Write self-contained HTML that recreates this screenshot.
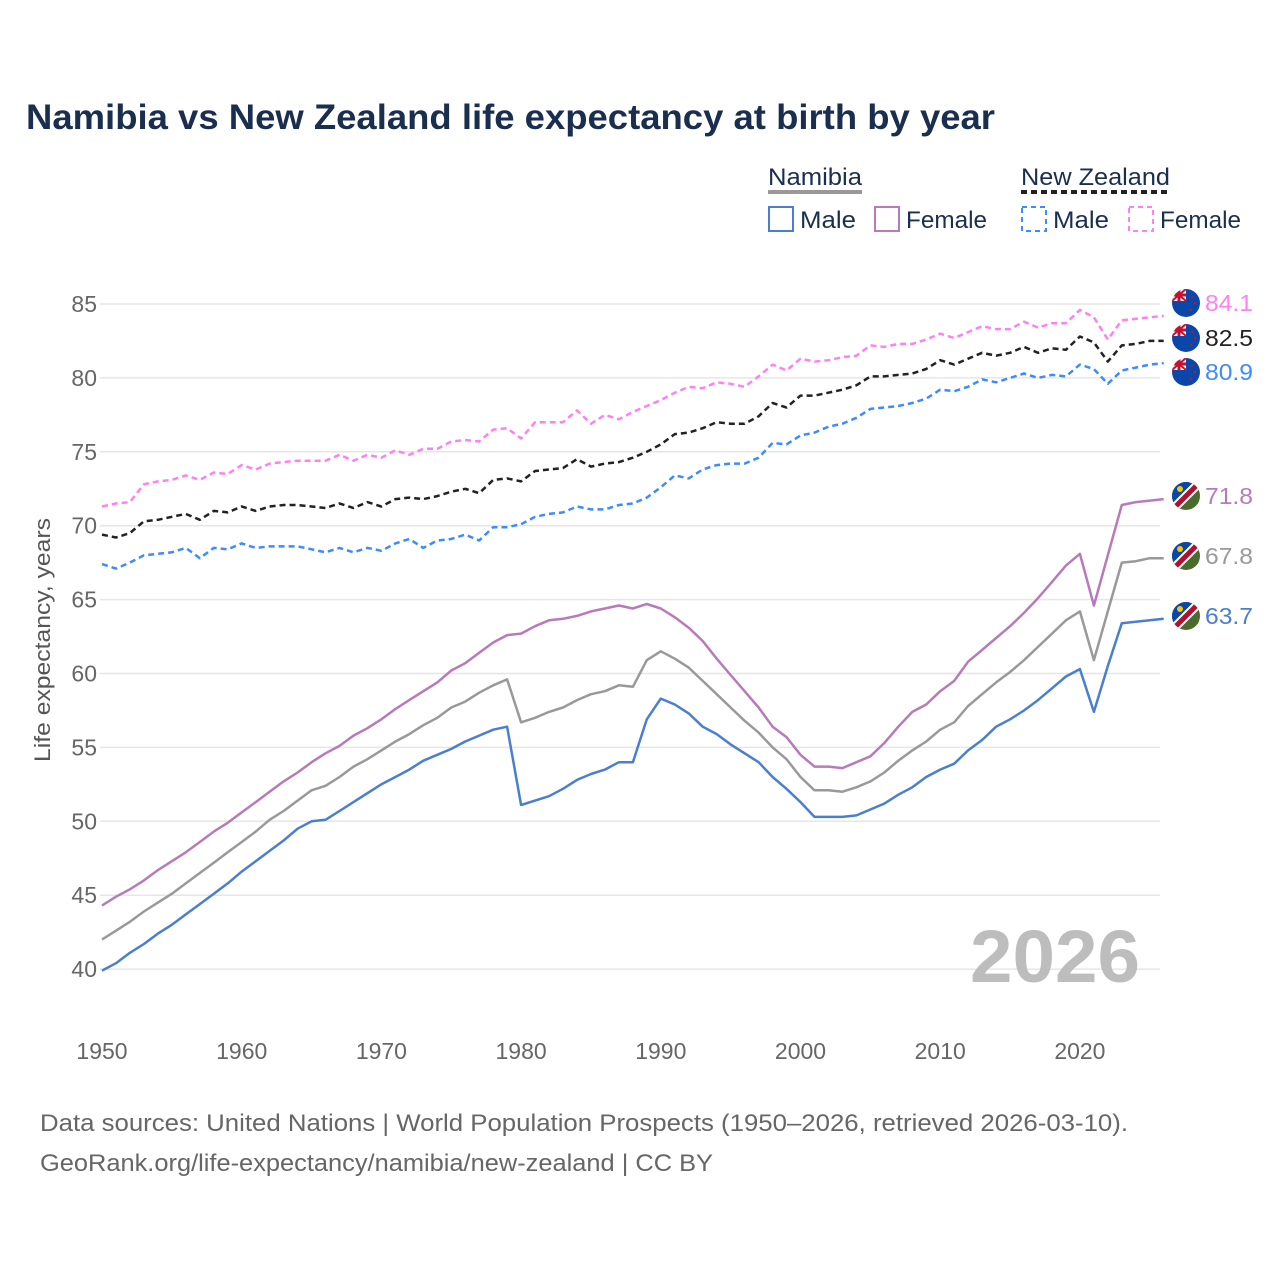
<!DOCTYPE html>
<html><head><meta charset="utf-8">
<style>
html,body{margin:0;padding:0;background:#fff;}
body{width:1280px;height:1280px;overflow:hidden;font-family:"Liberation Sans",sans-serif;}
svg text{font-family:"Liberation Sans",sans-serif;}
</style></head>
<body>
<svg id="chart" width="1280" height="1280" viewBox="0 0 1280 1280" xmlns="http://www.w3.org/2000/svg">
<defs>
<clipPath id="cc"><circle cx="0" cy="0" r="14"/></clipPath>
<g id="flag-nz">
 <g clip-path="url(#cc)">
  <rect x="-14" y="-14" width="28" height="28" fill="#0a47a8"/>
  <rect x="-14" y="-14" width="14" height="12" fill="#fff"/>
  <path d="M-14,-14 L0,-2 M0,-14 L-14,-2" stroke="#c8102e" stroke-width="2"/>
  <rect x="-14" y="-9.5" width="14" height="3" fill="#c8102e"/>
  <rect x="-8.5" y="-14" width="3" height="12" fill="#c8102e"/>
  <circle cx="6" cy="-6" r="1.2" fill="#c8102e"/><circle cx="9" cy="0" r="1.2" fill="#c8102e"/><circle cx="5" cy="7" r="1.2" fill="#c8102e"/>
 </g>
</g>
<g id="flag-na">
 <g clip-path="url(#cc)">
  <rect x="-14" y="-14" width="28" height="28" fill="#4a6b2e"/>
  <polygon points="-14,-14 14,-14 -14,14" fill="#0a47a8"/>
  <path d="M-16,16 L16,-16" stroke="#fff" stroke-width="9"/>
  <path d="M-16,16 L16,-16" stroke="#b01030" stroke-width="5"/>
  <circle cx="-6" cy="-7" r="3" fill="#f7c600"/>
 </g>
</g>
</defs>
<text x="26" y="129" font-size="35" font-weight="bold" fill="#1a2e4f" textLength="969" lengthAdjust="spacingAndGlyphs">Namibia vs New Zealand life expectancy at birth by year</text>

<g font-size="24" fill="#1a2e4f">
 <text x="768" y="185" fill="#1a2e4f" textLength="94" lengthAdjust="spacingAndGlyphs">Namibia</text>
 <line x1="768" x2="862" y1="192" y2="192" stroke="#999" stroke-width="4"/>
 <text x="1021" y="185" fill="#1a2e4f" textLength="149" lengthAdjust="spacingAndGlyphs">New Zealand</text>
 <line x1="1021" x2="1170" y1="192" y2="192" stroke="#222" stroke-width="4" stroke-dasharray="6,4"/>
 <g><rect x="769" y="207" width="24" height="24" fill="none" stroke="#4a7fcf" stroke-width="2"/><text x="800" y="228" fill="#1a2e4f" textLength="56" lengthAdjust="spacingAndGlyphs">Male</text></g>
 <g><rect x="875" y="207" width="24" height="24" fill="none" stroke="#b87ab8" stroke-width="2"/><text x="906" y="228" fill="#1a2e4f" textLength="81" lengthAdjust="spacingAndGlyphs">Female</text></g>
 <g><rect x="1022" y="207" width="24" height="24" fill="none" stroke="#3d8bff" stroke-width="2" stroke-dasharray="5,4"/><text x="1053" y="228" fill="#1a2e4f" textLength="56" lengthAdjust="spacingAndGlyphs">Male</text></g>
 <g><rect x="1129" y="207" width="24" height="24" fill="none" stroke="#ff80f0" stroke-width="2" stroke-dasharray="5,4"/><text x="1160" y="228" fill="#1a2e4f" textLength="81" lengthAdjust="spacingAndGlyphs">Female</text></g>
</g>

<g id="grid"></g>
<g id="yticks"></g>
<g id="xticks"></g>
<text transform="translate(50,640) rotate(-90)" text-anchor="middle" font-size="22" fill="#555" textLength="244" lengthAdjust="spacingAndGlyphs">Life expectancy, years</text>
<text x="1140" y="982" text-anchor="end" font-size="74" font-weight="bold" fill="#bdbdbd" textLength="170" lengthAdjust="spacingAndGlyphs">2026</text>
<g id="lines"></g>
<g id="ends"></g>
<text x="40" y="1131" font-size="24" fill="#666" textLength="1088" lengthAdjust="spacingAndGlyphs">Data sources: United Nations | World Population Prospects (1950–2026, retrieved 2026-03-10).</text>
<text x="40" y="1171" font-size="24" fill="#666" textLength="673" lengthAdjust="spacingAndGlyphs">GeoRank.org/life-expectancy/namibia/new-zealand | CC BY</text>
</svg>
<script>
const startYear = 1950;
const yTicks = [40,45,50,55,60,65,70,75,80,85];
const xTicks = [1950,1960,1970,1980,1990,2000,2010,2020];
const namibiaMale = [39.9,40.4,41.1,41.7,42.4,43.0,43.7,44.4,45.1,45.8,46.6,47.3,48.0,48.7,49.5,50.0,50.1,50.7,51.3,51.9,52.5,53.0,53.5,54.1,54.5,54.9,55.4,55.8,56.2,56.4,51.1,51.4,51.7,52.2,52.8,53.2,53.5,54.0,54.0,56.9,58.3,57.9,57.3,56.4,55.9,55.2,54.6,54.0,53.0,52.2,51.3,50.3,50.3,50.3,50.4,50.8,51.2,51.8,52.3,53.0,53.5,53.9,54.8,55.5,56.4,56.9,57.5,58.2,59.0,59.8,60.3,57.4,60.5,63.4,63.5,63.6,63.7];
const namibiaBoth = [42.0,42.6,43.2,43.9,44.5,45.1,45.8,46.5,47.2,47.9,48.6,49.3,50.1,50.7,51.4,52.1,52.4,53.0,53.7,54.2,54.8,55.4,55.9,56.5,57.0,57.7,58.1,58.7,59.2,59.6,56.7,57.0,57.4,57.7,58.2,58.6,58.8,59.2,59.1,60.9,61.5,61.0,60.4,59.5,58.6,57.7,56.8,56.0,55.0,54.2,53.0,52.1,52.1,52.0,52.3,52.7,53.3,54.1,54.8,55.4,56.2,56.7,57.8,58.6,59.4,60.1,60.9,61.8,62.7,63.6,64.2,60.9,64.2,67.5,67.6,67.8,67.8];
const namibiaFemale = [44.3,44.9,45.4,46.0,46.7,47.3,47.9,48.6,49.3,49.9,50.6,51.3,52.0,52.7,53.3,54.0,54.6,55.1,55.8,56.3,56.9,57.6,58.2,58.8,59.4,60.2,60.7,61.4,62.1,62.6,62.7,63.2,63.6,63.7,63.9,64.2,64.4,64.6,64.4,64.7,64.4,63.8,63.1,62.2,61.0,59.9,58.8,57.7,56.4,55.7,54.5,53.7,53.7,53.6,54.0,54.4,55.3,56.4,57.4,57.9,58.8,59.5,60.8,61.6,62.4,63.2,64.1,65.1,66.2,67.3,68.1,64.6,68.0,71.4,71.6,71.7,71.8];
const nzMale = [67.4,67.1,67.5,68.0,68.1,68.2,68.5,67.8,68.5,68.4,68.8,68.5,68.6,68.6,68.6,68.4,68.2,68.5,68.2,68.5,68.3,68.8,69.1,68.5,69.0,69.1,69.4,69.0,69.9,69.9,70.1,70.6,70.8,70.9,71.3,71.1,71.1,71.4,71.5,71.9,72.6,73.4,73.2,73.8,74.1,74.2,74.2,74.6,75.6,75.5,76.1,76.3,76.7,76.9,77.3,77.9,78.0,78.1,78.3,78.6,79.2,79.1,79.4,79.9,79.7,80.0,80.3,80.0,80.2,80.1,80.9,80.6,79.6,80.5,80.7,80.9,81.0];
const nzBoth = [69.4,69.2,69.5,70.3,70.4,70.6,70.8,70.4,71.0,70.9,71.3,71.0,71.3,71.4,71.4,71.3,71.2,71.5,71.2,71.6,71.3,71.8,71.9,71.8,72.0,72.3,72.5,72.2,73.1,73.2,73.0,73.7,73.8,73.9,74.5,74.0,74.2,74.3,74.6,75.0,75.5,76.2,76.3,76.6,77.0,76.9,76.9,77.4,78.3,78.0,78.8,78.8,79.0,79.2,79.5,80.1,80.1,80.2,80.3,80.6,81.2,80.9,81.3,81.7,81.5,81.7,82.1,81.7,82.0,81.9,82.8,82.4,81.1,82.2,82.3,82.5,82.5];
const nzFemale = [71.3,71.5,71.6,72.8,73.0,73.1,73.4,73.1,73.6,73.5,74.1,73.8,74.2,74.3,74.4,74.4,74.4,74.8,74.4,74.8,74.6,75.1,74.8,75.2,75.2,75.7,75.8,75.7,76.5,76.6,75.9,77.0,77.0,77.0,77.8,76.9,77.5,77.2,77.7,78.1,78.5,79.0,79.4,79.3,79.7,79.6,79.4,80.1,80.9,80.5,81.3,81.1,81.2,81.4,81.5,82.2,82.1,82.3,82.3,82.6,83.0,82.7,83.1,83.5,83.3,83.3,83.8,83.4,83.7,83.7,84.6,84.1,82.6,83.9,84.0,84.1,84.2];
const endLabels = ["84.1","82.5","80.9","71.8","67.8","63.7"];

const NS="http://www.w3.org/2000/svg";
const X0=102, XPY=13.97, Y85=304, YPU=14.78;
function xs(yr){return X0+(yr-1950)*XPY;}
function ys(v){return Y85+(85-v)*YPU;}
function mk(tag,attrs,parent){const e=document.createElementNS(NS,tag);for(const k in attrs)e.setAttribute(k,attrs[k]);parent.appendChild(e);return e;}

const grid=document.getElementById('grid'), yt=document.getElementById('yticks'), xt=document.getElementById('xticks');
yTicks.forEach(v=>{
  const l=mk('line',{x1:100,x2:1160,y1:ys(v),y2:ys(v),stroke:'#e6e6e6','stroke-width':1.5},grid);
  
  
  const t=mk('text',{x:97,y:ys(v)+8,'text-anchor':'end','font-size':23,fill:'#666'},yt);
  t.textContent=v;
  
  
});
xTicks.forEach(yr=>{
  const t=mk('text',{x:xs(yr),y:1059,'text-anchor':'middle','font-size':23,fill:'#666'},xt);
  t.textContent=yr;
  
  
});

const series=[
 {d:nzFemale,c:'#ff80f0',dash:'6,4',n:'nz-female',flag:'nz',lab:0,ly:303},
 {d:nzBoth,c:'#222',dash:'6,4',n:'nz-both',flag:'nz',lab:1,ly:338},
 {d:nzMale,c:'#3d8bff',dash:'6,4',n:'nz-male',flag:'nz',lab:2,ly:372},
 {d:namibiaFemale,c:'#b87ab8',dash:null,n:'namibia-female',flag:'na',lab:3,ly:496},
 {d:namibiaBoth,c:'#999',dash:null,n:'namibia-both',flag:'na',lab:4,ly:556},
 {d:namibiaMale,c:'#4a7fcf',dash:null,n:'namibia-male',flag:'na',lab:5,ly:616}
];
const lines=document.getElementById('lines'), ends=document.getElementById('ends');
series.forEach(s=>{
  const pts=s.d.map((v,i)=>xs(startYear+i).toFixed(1)+','+ys(v).toFixed(1));
  const a={points:pts.join(' '),fill:'none',stroke:s.c,'stroke-width':2.5,'stroke-linejoin':'round'};
  if(s.dash)a['stroke-dasharray']=s.dash;
  const p=mk('polyline',a,lines);
  
  
  const f=mk('use',{href:'#flag-'+s.flag,x:1186,y:s.ly},ends);
  
  
  const t=mk('text',{x:1205,y:s.ly+8,'font-size':23,fill:s.c,textLength:48,lengthAdjust:'spacingAndGlyphs'},ends);
  t.textContent=endLabels[s.lab];
  
  
});
</script>
</body></html>
